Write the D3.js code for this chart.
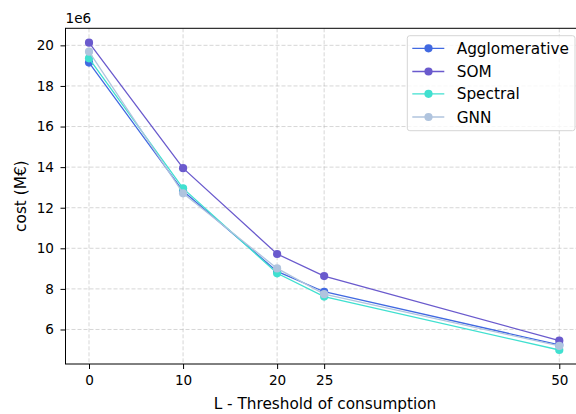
<!DOCTYPE html>
<html><head><meta charset="utf-8">
<script src="https://cdn.jsdelivr.net/npm/d3@7"></script>
<style>body{margin:0;background:#fff}svg{display:block;font-family:"DejaVu Sans",sans-serif}</style>
</head><body><svg id="c" width="576" height="414"></svg>
<script>
const xValues = [0, 10, 20, 25, 50];
const xTicks = [0, 10, 20, 25, 50];
const yTicks = [6, 8, 10, 12, 14, 16, 18, 20];
const seriesNames = ["Agglomerative", "SOM", "Spectral", "GNN"];
const seriesColors = ["#4169e1", "#6a5acd", "#40e0d0", "#b0c4de"];
const agglomerative = [19.15, 12.82, 8.86, 7.86, 5.24];
const som = [20.13, 13.95, 9.72, 8.63, 5.45];
const spectral = [19.36, 12.95, 8.77, 7.62, 4.99];
const gnn = [19.69, 12.71, 9.01, 7.74, 5.19];
const seriesValues = [agglomerative, som, spectral, gnn];

const svg = d3.select("#c");
const L = 65.5, R = 582.8, T = 28.3, B = 364;
const tickFont = 13.6, labelFont = 15.3;
const x = d3.scaleLinear().domain([-2.5, 52.5]).range([L, R]);
const y = d3.scaleLinear().domain([4.3, 20.84]).range([B, T]);

// grid
const g = svg.append("g");
g.selectAll(".gx").data(xTicks).join("line")
  .attr("x1", d => x(d)).attr("x2", d => x(d)).attr("y1", T).attr("y2", B)
  .attr("stroke", "#b0b0b0").attr("stroke-opacity", 0.5).attr("stroke-width", 1).attr("stroke-dasharray", "4,2");
g.selectAll(".gy").data(yTicks).join("line")
  .attr("y1", d => y(d)).attr("y2", d => y(d)).attr("x1", L).attr("x2", R)
  .attr("stroke", "#b0b0b0").attr("stroke-opacity", 0.5).attr("stroke-width", 1).attr("stroke-dasharray", "4,2");

// axes
const xa = svg.append("g").attr("transform", `translate(0,${B})`)
  .call(d3.axisBottom(x).tickValues(xTicks).tickSize(5).tickPadding(6.5).tickFormat(d3.format("d")));
const ya = svg.append("g").attr("transform", `translate(${L},0)`)
  .call(d3.axisLeft(y).tickValues(yTicks).tickSize(5).tickPadding(6.5).tickFormat(d3.format("d")));
[xa, ya].forEach(a => {
  a.select(".domain").remove();
  a.selectAll("text").attr("font-size", tickFont).attr("fill", "#000").attr("font-family", "DejaVu Sans");
  a.selectAll("line").attr("stroke", "#000").attr("stroke-width", 1);
});
// spines
svg.append("rect").attr("x", L).attr("y", T).attr("width", R - L).attr("height", B - T)
  .attr("fill", "none").attr("stroke", "#000").attr("stroke-width", 1);

// series
const line = d3.line().x((d, i) => x(xValues[i])).y(d => y(d));
seriesValues.forEach((vals, k) => {
  svg.append("path").datum(vals).attr("d", line).attr("fill", "none")
    .attr("stroke", seriesColors[k]).attr("stroke-width", 1.3);
  svg.append("g").selectAll("circle").data(vals).join("circle")
    .attr("cx", (d, i) => x(xValues[i])).attr("cy", d => y(d)).attr("r", 4.1)
    .attr("fill", seriesColors[k]);
});

// labels
svg.append("text").attr("x", L).attr("y", 23).attr("font-size", tickFont).text("1e6");
svg.append("text").attr("x", 325).attr("y", 409).attr("text-anchor", "middle")
  .attr("font-size", labelFont).text("L - Threshold of consumption");
svg.append("text").attr("transform", `translate(26,${(T + B) / 2}) rotate(-90)`).attr("text-anchor", "middle")
  .attr("font-size", labelFont).text("cost (M€)");

// legend
const lg = svg.append("g");
lg.append("rect").attr("x", 407.3).attr("y", 35.7).attr("width", 167.7).attr("height", 95).attr("rx", 2.5)
  .attr("fill", "#fff").attr("fill-opacity", 0.8).attr("stroke", "#d5d5d5").attr("stroke-width", 1);
const ly = [48.3, 71.5, 93.8, 117];
seriesNames.forEach((n, k) => {
  lg.append("line").attr("x1", 412.3).attr("x2", 444.3).attr("y1", ly[k]).attr("y2", ly[k])
    .attr("stroke", seriesColors[k]).attr("stroke-width", 1.3);
  lg.append("circle").attr("cx", 428.5).attr("cy", ly[k]).attr("r", 4.1).attr("fill", seriesColors[k]);
  lg.append("text").attr("x", 456.7).attr("y", ly[k] + 5.5).attr("font-size", labelFont).text(n);
});
</script></body></html>
